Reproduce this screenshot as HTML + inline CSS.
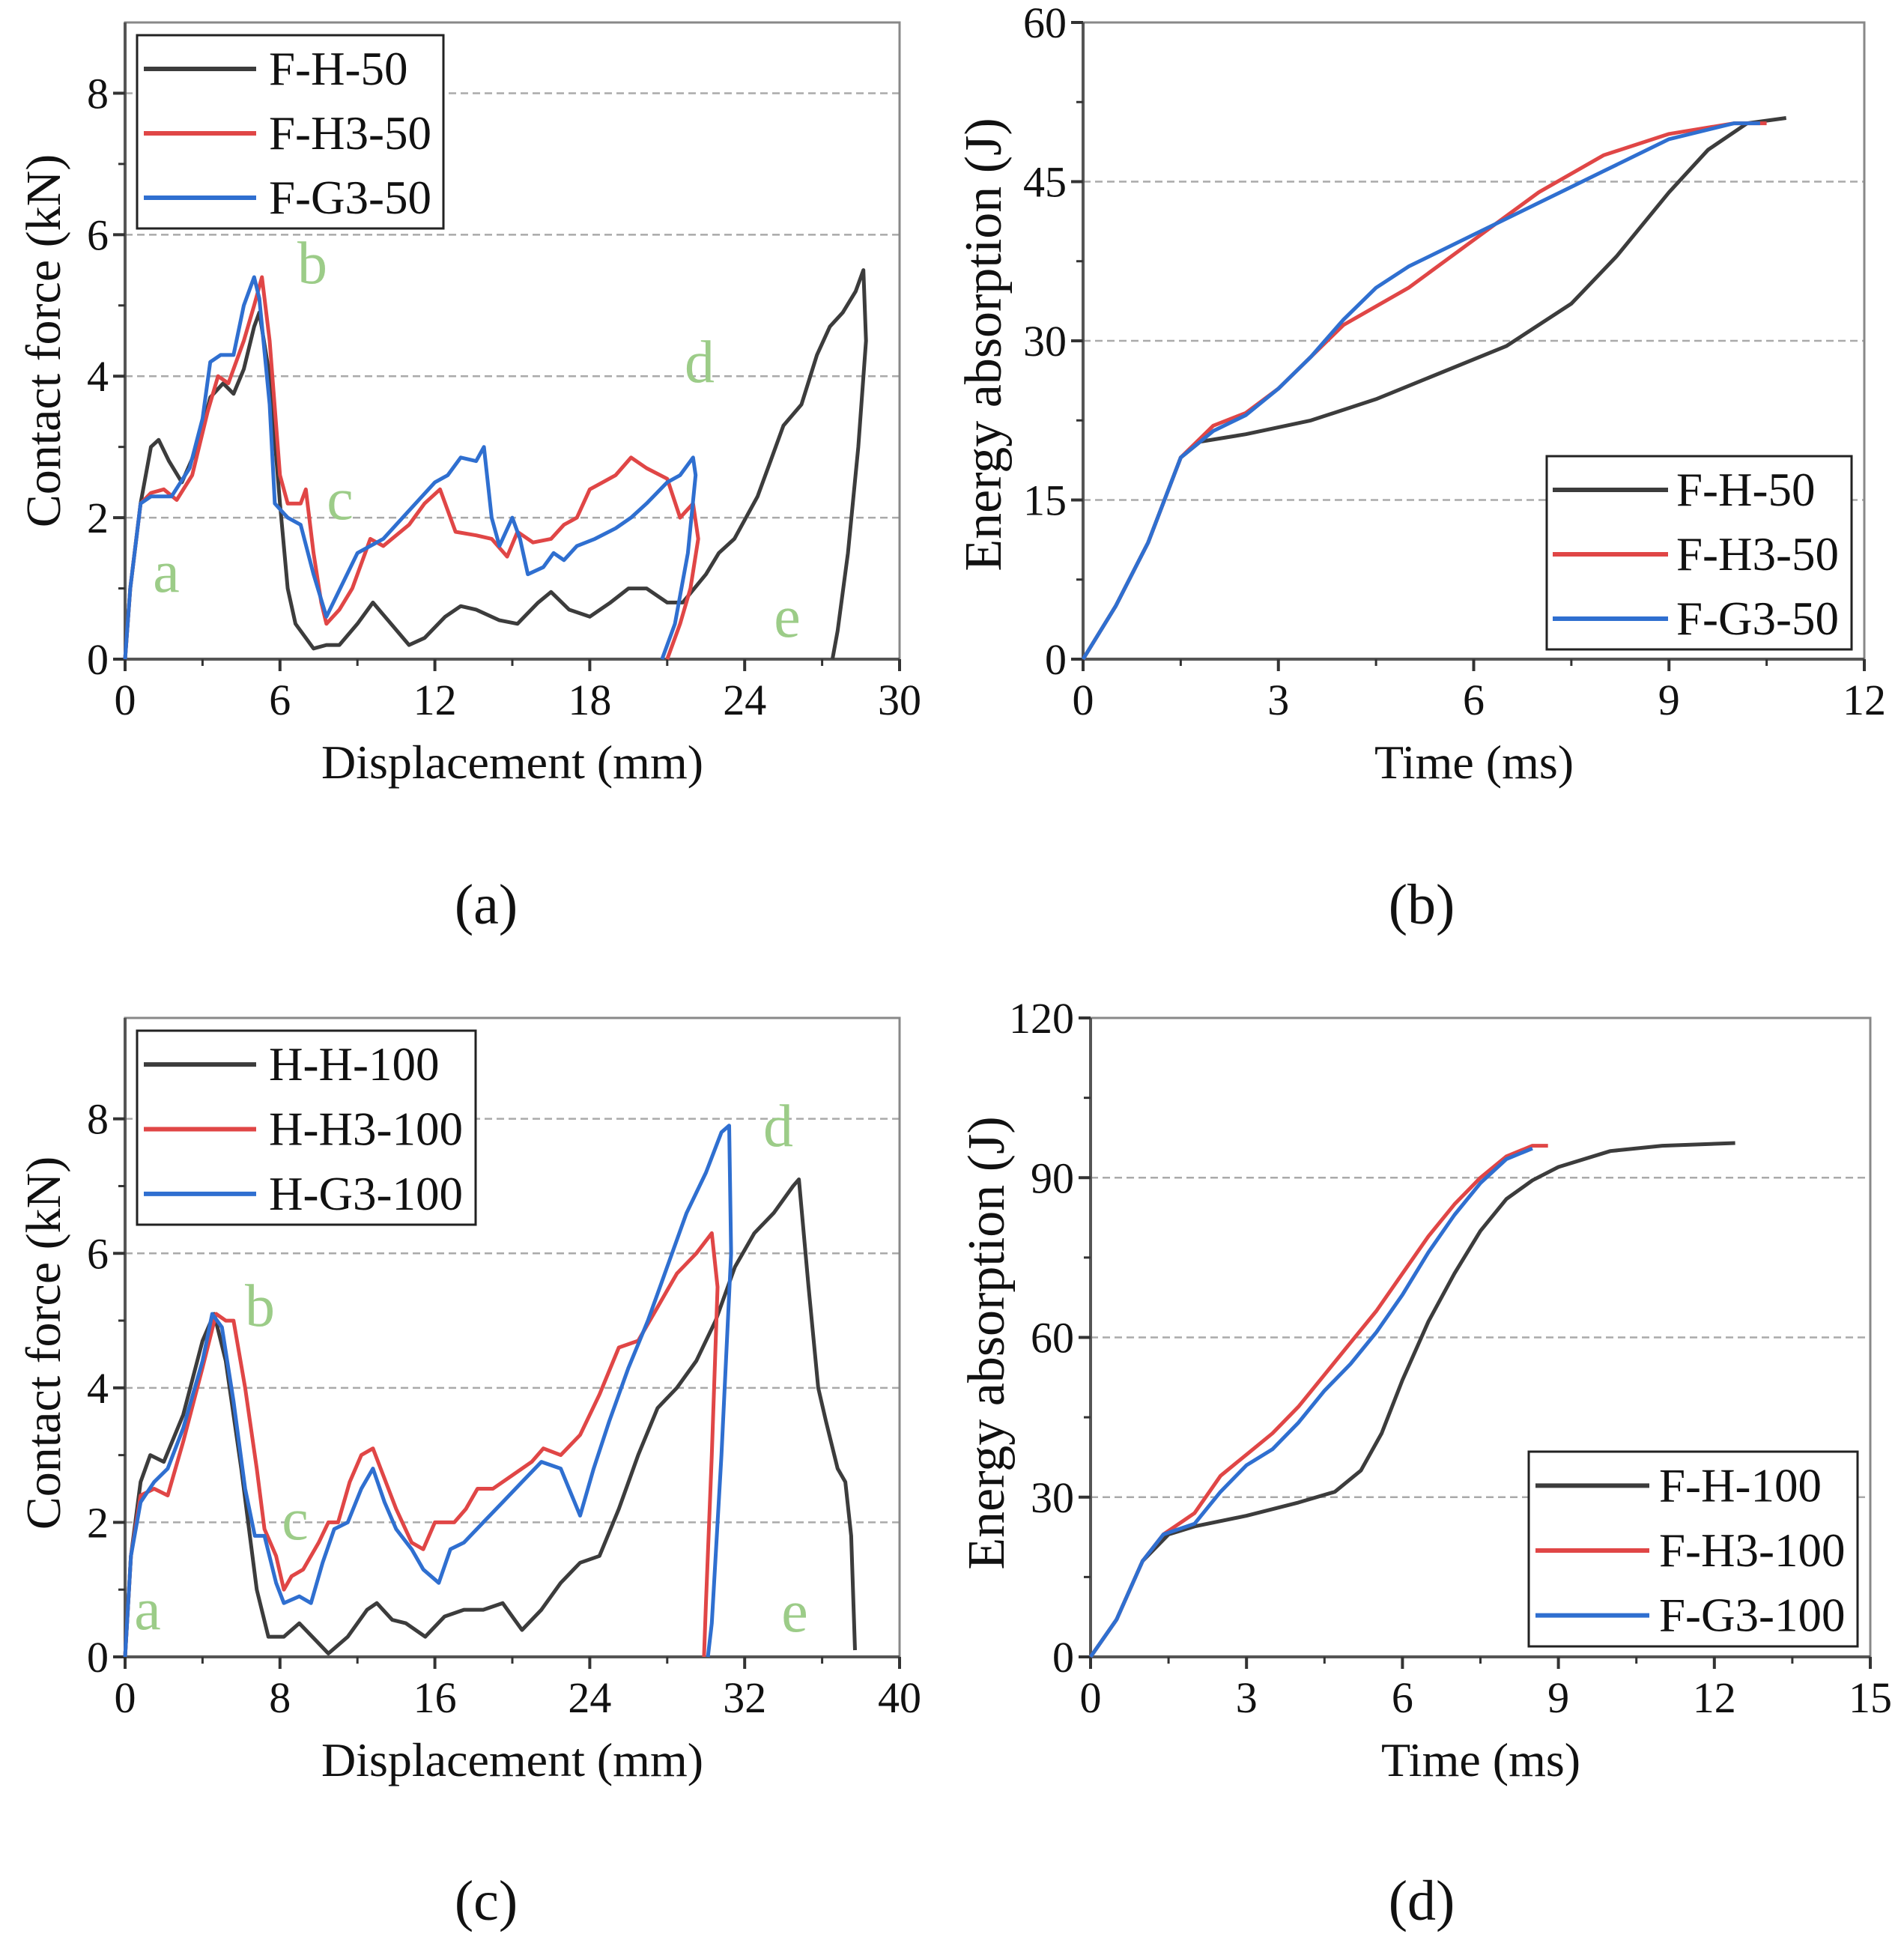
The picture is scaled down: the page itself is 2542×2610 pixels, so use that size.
<!DOCTYPE html>
<html><head><meta charset="utf-8"><style>
html,body{margin:0;padding:0;background:#fff}
svg{display:block}
text{font-family:"Liberation Serif",serif;fill:#111}
</style></head><body>
<svg id="fig" width="2542" height="2610" viewBox="0 0 2542 2610" xmlns="http://www.w3.org/2000/svg"></svg>
<script>
// ---------- Panel (a) data ----------
const aBlackX=[0,0.2,0.6,1.0,1.3,1.7,2.2,2.8,3.3,3.8,4.2,4.6,5.0,5.2,5.6,6.0,6.3,6.6,7.0,7.3,7.8,8.3,9.0,9.6,10.3,11.0,11.6,12.4,13.0,13.6,14.5,15.2,16.0,16.5,17.2,18.0,18.8,19.5,20.2,21.0,21.6,22.5,23.0,23.6,24.5,25.0,25.5,26.2,26.8,27.3,27.8,28.3,28.6,28.7,28.4,28.0,27.6,27.4];
const aBlackY=[0,1.0,2.2,3.0,3.1,2.8,2.5,3.0,3.7,3.9,3.75,4.1,4.7,4.9,4.0,2.2,1.0,0.5,0.3,0.15,0.2,0.2,0.5,0.8,0.5,0.2,0.3,0.6,0.75,0.7,0.55,0.5,0.8,0.95,0.7,0.6,0.8,1.0,1.0,0.8,0.8,1.2,1.5,1.7,2.3,2.8,3.3,3.6,4.3,4.7,4.9,5.2,5.5,4.5,3.0,1.5,0.4,0];
const aRedX=[0,0.2,0.6,1.0,1.5,2.0,2.6,3.2,3.6,4.0,4.6,5.0,5.3,5.6,6.0,6.3,6.8,7.0,7.3,7.6,7.8,8.3,8.8,9.2,9.5,10.0,11.0,11.6,12.2,12.8,13.6,14.2,14.8,15.2,15.8,16.5,17.0,17.5,18.0,18.5,19.0,19.6,20.2,21.0,21.5,22.0,22.2,21.9,21.5,21.0];
const aRedY=[0,1.0,2.2,2.35,2.4,2.25,2.6,3.5,4.0,3.9,4.5,5.0,5.4,4.5,2.6,2.2,2.2,2.4,1.5,0.8,0.5,0.7,1.0,1.4,1.7,1.6,1.9,2.2,2.4,1.8,1.75,1.7,1.45,1.8,1.65,1.7,1.9,2.0,2.4,2.5,2.6,2.85,2.7,2.55,2.0,2.2,1.7,1.0,0.5,0];
const aBlueX=[0,0.2,0.6,1.0,1.8,2.5,3.0,3.3,3.7,4.2,4.6,5.0,5.2,5.6,5.8,6.3,6.8,7.3,7.8,8.2,9.0,10.0,11.0,12.0,12.5,13.0,13.6,13.9,14.2,14.5,15.0,15.3,15.6,16.2,16.6,17.0,17.5,18.2,19.0,19.6,20.2,21.0,21.5,22.0,22.1,21.8,21.3,20.8];
const aBlueY=[0,1.0,2.2,2.3,2.3,2.7,3.4,4.2,4.3,4.3,5.0,5.4,5.1,3.6,2.2,2.0,1.9,1.2,0.6,0.9,1.5,1.7,2.1,2.5,2.6,2.85,2.8,3.0,2.0,1.6,2.0,1.7,1.2,1.3,1.5,1.4,1.6,1.7,1.85,2.0,2.2,2.5,2.6,2.85,2.6,1.5,0.5,0];
// ---------- Panel (b) data ----------
const bBlackX=[0,0.5,1.0,1.5,1.8,2.5,3.5,4.5,5.5,6.5,7.5,8.2,9.0,9.6,10.2,10.8];
const bBlackY=[0,5,11,19,20.5,21.2,22.5,24.5,27,29.5,33.5,38,44,48,50.5,51];
const bRedX=[0,0.5,1.0,1.5,2.0,2.5,3.0,3.5,4.0,5.0,6.0,7.0,8.0,9.0,10.0,10.5];
const bRedY=[0,5,11,19,22,23.2,25.5,28.5,31.5,35,39.5,44,47.5,49.5,50.5,50.5];
const bBlueX=[0,0.5,1.0,1.5,2.0,2.5,3.0,3.5,4.0,4.5,5.0,6.0,7.0,8.0,9.0,10.0,10.4];
const bBlueY=[0,5,11,19,21.5,23,25.5,28.5,32,35,37,40,43,46,49,50.5,50.5];
// ---------- Panel (c) data ----------
const cBlackX=[0,0.3,0.8,1.3,2.0,3.0,4.0,4.6,5.2,6.0,6.8,7.4,8.2,9.0,10.0,10.5,11.5,12.5,13.0,13.8,14.5,15.5,16.5,17.5,18.5,19.5,20.5,21.5,22.5,23.5,24.5,25.5,26.5,27.5,28.5,29.5,30.5,31.5,32.5,33.5,34.5,34.8,35.3,35.8,36.2,36.8,37.2,37.5,37.7];
const cBlackY=[0,1.5,2.6,3.0,2.9,3.6,4.7,5.1,4.4,2.8,1.0,0.3,0.3,0.5,0.2,0.05,0.3,0.7,0.8,0.55,0.5,0.3,0.6,0.7,0.7,0.8,0.4,0.7,1.1,1.4,1.5,2.2,3.0,3.7,4.0,4.4,5.0,5.8,6.3,6.6,7.0,7.1,5.5,4.0,3.5,2.8,2.6,1.8,0.1];
const cRedX=[0,0.3,0.8,1.5,2.2,3.0,4.0,4.7,5.2,5.6,6.2,6.8,7.2,7.8,8.2,8.6,9.2,10.0,10.5,11.0,11.6,12.2,12.8,13.2,14.0,14.8,15.4,16.0,17.0,17.6,18.2,19.0,20.0,21.0,21.6,22.5,23.5,24.5,25.5,26.5,27.5,28.5,29.5,30.3,30.6,30.3,30.0,29.9];
const cRedY=[0,1.5,2.4,2.5,2.4,3.2,4.3,5.1,5.0,5.0,4.0,2.8,1.9,1.5,1.0,1.2,1.3,1.7,2.0,2.0,2.6,3.0,3.1,2.8,2.2,1.7,1.6,2.0,2.0,2.2,2.5,2.5,2.7,2.9,3.1,3.0,3.3,3.9,4.6,4.7,5.2,5.7,6.0,6.3,5.5,3.0,0.8,0];
const cBlueX=[0,0.3,0.8,1.5,2.2,3.0,4.0,4.5,5.0,5.6,6.2,6.7,7.2,7.8,8.2,9.0,9.6,10.2,10.8,11.5,12.2,12.8,13.4,14.0,14.8,15.4,16.2,16.8,17.5,18.5,19.5,20.5,21.5,22.5,23.5,24.2,25.0,26.0,27.0,28.0,29.0,30.0,30.8,31.2,31.3,30.8,30.3,30.1];
const cBlueY=[0,1.5,2.3,2.6,2.8,3.4,4.4,5.1,4.9,3.8,2.5,1.8,1.8,1.1,0.8,0.9,0.8,1.4,1.9,2.0,2.5,2.8,2.3,1.9,1.6,1.3,1.1,1.6,1.7,2.0,2.3,2.6,2.9,2.8,2.1,2.8,3.5,4.3,5.0,5.8,6.6,7.2,7.8,7.9,6.0,3.0,0.5,0];
// ---------- Panel (d) data ----------
const dBlackX=[0,0.5,1.0,1.5,2.0,3.0,4.0,4.7,5.2,5.6,6.0,6.5,7.0,7.5,8.0,8.5,9.0,10.0,11.0,12.4];
const dBlackY=[0,7,18,23,24.5,26.5,29,31,35,42,52,63,72,80,86,89.5,92,95,96,96.5];
const dRedX=[0,0.5,1.0,1.4,2.0,2.5,3.0,3.5,4.0,4.5,5.0,5.5,6.0,6.5,7.0,7.5,8.0,8.5,8.8];
const dRedY=[0,7,18,23,27,34,38,42,47,53,59,65,72,79,85,90,94,96,96];
const dBlueX=[0,0.5,1.0,1.4,2.0,2.5,3.0,3.5,4.0,4.5,5.0,5.5,6.0,6.5,7.0,7.5,8.0,8.5];
const dBlueY=[0,7,18,23,25,31,36,39,44,50,55,61,68,76,83,89,93.5,95.5];
// tick label arrays
const aXTicks=[0,6,12,18,24,30], aYTicks=[0,2,4,6,8];
const bXTicks=[0,3,6,9,12], bYTicks=[0,15,30,45,60];
const cXTicks=[0,8,16,24,32,40], cYTicks=[0,2,4,6,8];
const dXTicks=[0,3,6,9,12,15], dYTicks=[0,30,60,90,120];

const NS="http://www.w3.org/2000/svg";
const svg=document.getElementById('fig');
function el(tag,attrs,parent,txt){const e=document.createElementNS(NS,tag);for(const k in attrs)e.setAttribute(k,attrs[k]);if(txt!==undefined)e.textContent=txt;(parent||svg).appendChild(e);return e;}
const COL={k:'#3c3c3c',r:'#e04646',b:'#2f6fd0'};

function panel(o){
  const g=el('g',{});
  
  
  const sx=v=>o.x0+(v-o.xmin)/(o.xmax-o.xmin)*(o.x1-o.x0);
  const sy=v=>o.y0-(v-o.ymin)/(o.ymax-o.ymin)*(o.y0-o.y1);
  const top=sy(o.ytop);
  o.yt.forEach(v=>{if(v===0||v===o.ymax&&sy(v)<=top+1)return;const gl=el('line',{x1:o.x0,x2:o.x1,y1:sy(v),y2:sy(v),stroke:'#aaa','stroke-width':2.5,'stroke-dasharray':'10 6'},g);});
  const fr=el('rect',{x:o.x0,y:top,width:o.x1-o.x0,height:o.y0-top,fill:'none',stroke:'#888','stroke-width':3},g);
  
  el('line',{x1:o.x0,x2:o.x1,y1:o.y0,y2:o.y0,stroke:'#555','stroke-width':4},g);
  el('line',{x1:o.x0,x2:o.x0,y1:o.y0,y2:top,stroke:'#555','stroke-width':4},g);
  o.xt.forEach((v,i)=>{
    el('line',{x1:sx(v),x2:sx(v),y1:o.y0,y2:o.y0+16,stroke:'#333','stroke-width':4},g);
    if(i<o.xt.length-1){const m=(v+o.xt[i+1])/2;el('line',{x1:sx(m),x2:sx(m),y1:o.y0,y2:o.y0+9,stroke:'#333','stroke-width':3},g);}
    const t=el('text',{x:sx(v),y:o.y0+74,'font-size':58,'text-anchor':'middle'},g,String(v));
    
  });
  o.yt.forEach((v,i)=>{
    el('line',{x1:o.x0-16,x2:o.x0,y1:sy(v),y2:sy(v),stroke:'#333','stroke-width':4},g);
    if(i<o.yt.length-1){const m=(v+o.yt[i+1])/2;el('line',{x1:o.x0-9,x2:o.x0,y1:sy(m),y2:sy(m),stroke:'#333','stroke-width':3},g);}
    const t=el('text',{x:o.x0-22,y:sy(v)+20,'font-size':58,'text-anchor':'end'},g,String(v));
    
  });
  o.series.forEach(s=>{
    const d=s.x.map((v,i)=>(i?'L':'M')+sx(v).toFixed(1)+','+sy(s.y[i]).toFixed(1)).join('');
    const p=el('path',{d:d,fill:'none',stroke:COL[s.c],'stroke-width':5,'stroke-linejoin':'round'},g);
    
  });
  const L=o.leg;
  const lb=el('rect',{x:L.x,y:L.y,width:L.w,height:L.h,fill:'#fff',stroke:'#222','stroke-width':3},g);
  
  o.series.forEach((s,i)=>{
    const yy=L.y+L.h*(i+0.5)/3+2;
    el('line',{x1:L.lx1,x2:L.lx2,y1:yy,y2:yy,stroke:COL[s.c],'stroke-width':6},g);
    const t=el('text',{x:L.tx,y:yy+21,'font-size':63},g,s.label);
    
  });
  const xt=el('text',{x:o.xtx,y:o.xty,'font-size':64,'text-anchor':'middle'},g,o.xtitle);
  
  const yt=el('text',{x:0,y:0,'font-size':o.ytfs,'text-anchor':'middle',transform:`translate(${o.ytx},${o.yty}) rotate(-90)`},g,o.ytitle);
  
  (o.notes||[]).forEach(n=>{const t=el('text',{x:n[1],y:n[2],'font-size':80,'text-anchor':'middle',style:'fill:#9ccc88'},g,n[0]);});
  const pl=el('text',{x:o.plx,y:o.ply,'font-size':76,'text-anchor':'middle'},g,o.plabel);
  
}

panel({name:'panel-a',x0:167,x1:1201,y0:880,y1:30,xmin:0,xmax:30,ymin:0,ymax:9,ytop:9,xt:aXTicks,yt:aYTicks,
 series:[{x:aBlackX,y:aBlackY,c:'k',label:'F-H-50'},{x:aRedX,y:aRedY,c:'r',label:'F-H3-50'},{x:aBlueX,y:aBlueY,c:'b',label:'F-G3-50'}],
 leg:{x:183,y:47,w:409,h:258,lx1:192,lx2:342,tx:359},
 xtitle:'Displacement (mm)',xtx:684,xty:1039,ytitle:'Contact force (kN)',ytfs:66,ytx:80,yty:455,
 notes:[['a',222,790],['b',417,378],['c',454,693],['d',934,510],['e',1051,850]],plabel:'(a)',plx:649,ply:1233});
panel({name:'panel-b',x0:1446,x1:2489,y0:880,y1:30,xmin:0,xmax:12,ymin:0,ymax:60,ytop:60,xt:bXTicks,yt:bYTicks,
 series:[{x:bBlackX,y:bBlackY,c:'k',label:'F-H-50'},{x:bRedX,y:bRedY,c:'r',label:'F-H3-50'},{x:bBlueX,y:bBlueY,c:'b',label:'F-G3-50'}],
 leg:{x:2065,y:609,w:407,h:258,lx1:2073,lx2:2227,tx:2238},
 xtitle:'Time (ms)',xtx:1968,xty:1039,ytitle:'Energy absorption (J)',ytfs:70,ytx:1336,yty:460,plabel:'(b)',plx:1898,ply:1233});
panel({name:'panel-c',x0:167,x1:1201,y0:2212,y1:1359,xmin:0,xmax:40,ymin:0,ymax:9.5,ytop:9.5,xt:cXTicks,yt:cYTicks,
 series:[{x:cBlackX,y:cBlackY,c:'k',label:'H-H-100'},{x:cRedX,y:cRedY,c:'r',label:'H-H3-100'},{x:cBlueX,y:cBlueY,c:'b',label:'H-G3-100'}],
 leg:{x:183,y:1376,w:452,h:259,lx1:192,lx2:342,tx:359},
 xtitle:'Displacement (mm)',xtx:684,xty:2371,ytitle:'Contact force (kN)',ytfs:66,ytx:80,yty:1793,
 notes:[['a',197,2175],['b',347,1770],['c',394,2055],['d',1039,1530],['e',1061,2178]],plabel:'(c)',plx:649,ply:2563});
panel({name:'panel-d',x0:1456,x1:2497,y0:2212,y1:1359,xmin:0,xmax:15,ymin:0,ymax:120,ytop:120,xt:dXTicks,yt:dYTicks,
 series:[{x:dBlackX,y:dBlackY,c:'k',label:'F-H-100'},{x:dRedX,y:dRedY,c:'r',label:'F-H3-100'},{x:dBlueX,y:dBlueY,c:'b',label:'F-G3-100'}],
 leg:{x:2041,y:1938,w:439,h:260,lx1:2050,lx2:2202,tx:2215},
 xtitle:'Time (ms)',xtx:1977,xty:2371,ytitle:'Energy absorption (J)',ytfs:70,ytx:1340,yty:1793,plabel:'(d)',plx:1898,ply:2563});
</script>
</body></html>
